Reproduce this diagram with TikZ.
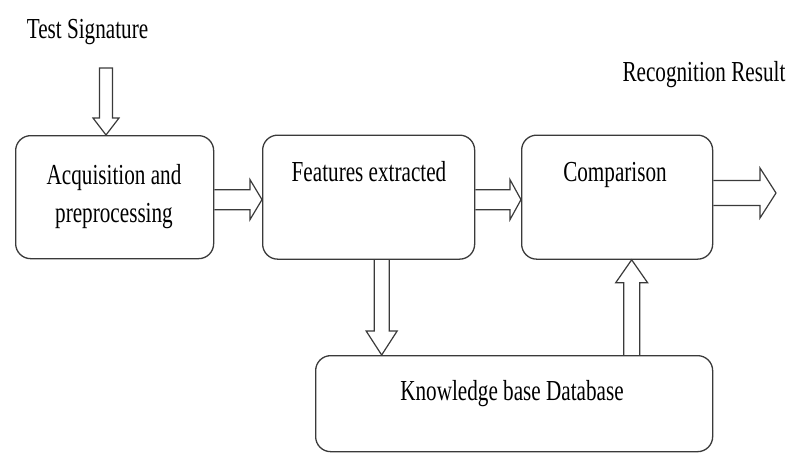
\documentclass[tikz,border=0pt]{standalone}
\usepackage{fontspec}
\usepackage{graphicx}
\setmainfont{Liberation Serif}
\usetikzlibrary{calc}

% condensed text, as set in the figure
\newcommand{\narrow}[1]{\scalebox{0.73}[1]{#1}}

% hollow block arrows: start point, tip point, shaft half-width, head half-width, head length
\newcommand{\arrowright}[5]{%
  \path[blockarrow] let \p1=(#1), \p2=(#2) in
    (\x1,\y1+#3) -- (\x2-#5,\y1+#3) -- (\x2-#5,\y1+#4) -- (\x2,\y1)
    -- (\x2-#5,\y1-#4) -- (\x2-#5,\y1-#3) -- (\x1,\y1-#3);}
\newcommand{\arrowdown}[6][]{%
  \path[blockarrow] let \p1=(#2), \p2=(#3) in
    (\x1-#4,\y1) -- (\x1-#4,\y2+#6) -- (\x1-#5,\y2+#6) -- (\x1,\y2)
    -- (\x1+#5,\y2+#6) -- (\x1+#4,\y2+#6) -- (\x1+#4,\y1) #1;}
\newcommand{\arrowup}[5]{%
  \path[blockarrow] let \p1=(#1), \p2=(#2) in
    (\x1-#3,\y1) -- (\x1-#3,\y2-#5) -- (\x1-#4,\y2-#5) -- (\x1,\y2)
    -- (\x1+#4,\y2-#5) -- (\x1+#3,\y2-#5) -- (\x1+#3,\y1);}

\definecolor{edge}{HTML}{3A3A3A}

\begin{document}
\begin{tikzpicture}[x=1pt,y=-1pt,
  stage/.style={draw=edge, line width=1.3pt, rounded corners=15pt,
    inner sep=0pt, anchor=north west},
  lbl/.style={anchor=base, inner sep=0pt, text=black,
    font=\fontsize{29}{38}\selectfont},
  blockarrow/.style={draw=edge, line width=1.2pt, line join=miter}]

\useasboundingbox (0,0) rectangle (792,453);

% processing stages
\node[stage, minimum width=198pt, minimum height=123pt] (acq)  at (15,135)  {};
\node[stage, minimum width=212pt, minimum height=124pt] (feat) at (262,134.5) {};
\node[stage, minimum width=191pt, minimum height=124pt] (cmp)  at (521,134.5) {};
\node[stage, minimum width=397pt, minimum height=96pt]  (kb)   at (315,355) {};

% labels
\node[lbl] (ts)    at (87.5,38) {\narrow{Test Signature}};
\node[lbl] (res)   at (704,81)  {\narrow{Recognition Result}};
\node[lbl] (acq-t) at (114,184) {\narrow{\begin{tabular}[t]{@{}c@{}}Acquisition and\\preprocessing\end{tabular}}};
\node[lbl] (feat-t) at (369,181) {\narrow{Features extracted}};
\node[lbl] (cmp-t)  at (615,181) {\narrow{Comparison}};
\node[lbl] (kb-t)   at (512,400) {\narrow{Knowledge base Database}};

% free arrow ends
\coordinate (ts-tail) at (106,68);
\coordinate (out-tip) at (776,193);
\coordinate (a2) at ($(acq.east)+(0,2.5)$);
\coordinate (a3) at ($(feat.east)+(0,2.5)$);
\coordinate (a5) at ($(feat.south)+(13,0)$);
\coordinate (a6) at ($(cmp.south)+(14.5,0)$);

% connectors
\arrowdown[-- cycle]{ts-tail}{ts-tail |- acq.north}{6.5pt}{13pt}{17pt}
\arrowright{a2}{a2 -| feat.west}{10pt}{20pt}{12pt}
\arrowright{a3}{a3 -| cmp.west}{10pt}{20pt}{11pt}
\arrowright{cmp.east |- out-tip}{out-tip}{12.5pt}{25pt}{16pt}
\arrowdown{a5}{a5 |- kb.north}{7.5pt}{15.5pt}{24pt}
\arrowup{a6 |- kb.north}{a6}{8pt}{16pt}{23pt}
\end{tikzpicture}
\end{document}
